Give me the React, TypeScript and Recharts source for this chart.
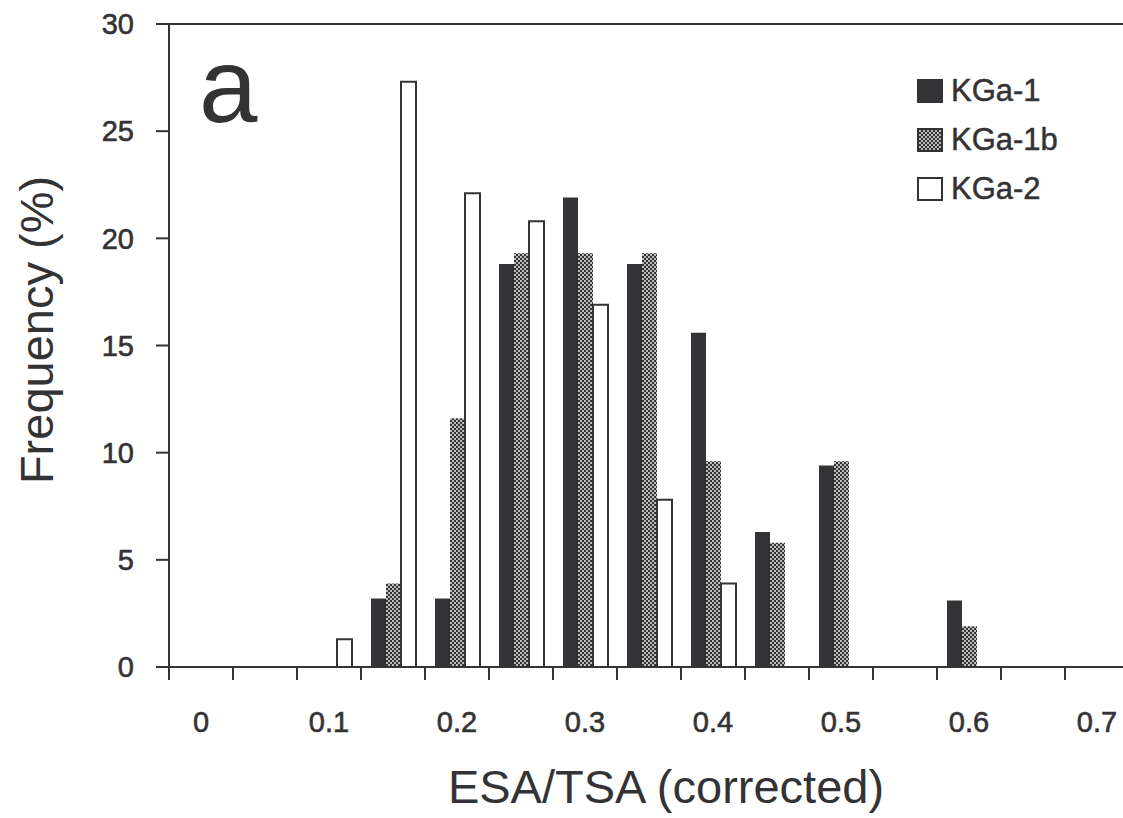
import { BarChart, Bar, XAxis, YAxis, ReferenceLine, Label } from 'recharts';

const bins = ['0', '0.05', '0.1', '0.15', '0.2', '0.25', '0.3', '0.35', '0.4', '0.45', '0.5', '0.55', '0.6', '0.65', '0.7'];
const kga1 = [null, null, null, 3.2, 3.2, 18.8, 21.9, 18.8, 15.6, 6.3, 9.4, null, 3.1, null, null];
const kga1b = [null, null, null, 3.9, 11.6, 19.3, 19.3, 19.3, 9.6, 5.8, 9.6, null, 1.9, null, null];
const kga2 = [null, null, 1.3, 27.3, 22.1, 20.8, 16.9, 7.8, 3.9, null, null, null, null, null, null];
const yTicks = [0, 5, 10, 15, 20, 25, 30];
const seriesNames = ['KGa-1', 'KGa-1b', 'KGa-2'];

const data = bins.map((bin, i) => ({ bin, kga1: kga1[i], kga1b: kga1b[i], kga2: kga2[i] }));

const INK = '#333335';
const FONT = '"Liberation Sans", Arial, Helvetica, sans-serif';
const CHART_W = 1200;
const CHART_H = 818;
const LEFT = 169;
const RIGHT = 71;
const CAT_W = (CHART_W - LEFT - RIGHT) / bins.length;

const fills = [INK, 'url(#stipple)', '#fff'];

function XTick(props: any) {
    const { x, y, index, payload } = props;
    const showLabel = index % 2 === 0;
    const last = index === bins.length - 1;
    return (
        <g>
            <line x1={x - CAT_W / 2} x2={x - CAT_W / 2} y1={y} y2={y + 13} stroke={INK} strokeWidth={2} />
            {last && <line x1={x + CAT_W / 2} x2={x + CAT_W / 2} y1={y} y2={y + 13} stroke={INK} strokeWidth={2} />}
            {showLabel && (
                <text x={x} y={y + 65} textAnchor="middle" fontSize={29} fontFamily={FONT} fill={INK} stroke={INK} strokeWidth={0.6}>
                    {payload.value}
                </text>
            )}
        </g>
    );
}

function Swatch({ i }: { i: number }) {
    return (
        <svg width={26} height={24} style={{ marginRight: 8, flex: 'none' }}>
            <rect x={1} y={1} width={24} height={22} fill={fills[i]} stroke={INK} strokeWidth={2} />
        </svg>
    );
}

export default function App() {
    return (
        <div style={{ position: 'fixed', left: 0, top: 0, width: 1123, height: 818, overflow: 'hidden', background: '#fff' }}>
            <svg width={0} height={0} style={{ position: 'absolute' }}>
                <defs>
                    <pattern id="stipple" width={4} height={4} patternUnits="userSpaceOnUse">
                        <rect width={4} height={4} fill={INK} />
                        <circle cx={1} cy={1} r={0.9} fill="#fff" />
                        <circle cx={3} cy={3} r={0.9} fill="#fff" />
                    </pattern>
                </defs>
            </svg>
            <BarChart
                width={CHART_W}
                height={CHART_H}
                data={data}
                margin={{ top: 24, right: RIGHT, bottom: 0, left: 0 }}
                barGap={0}
                barSize={15}
            >
                <XAxis
                    dataKey="bin"
                    height={151}
                    interval={0}
                    tickSize={0}
                    tickMargin={0}
                    tickLine={false}
                    tick={XTick}
                    axisLine={{ stroke: INK, strokeWidth: 2 }}
                >
                    <Label
                        content={() => (
                            <text x={666} y={803} textAnchor="middle" fontSize={47} fontFamily={FONT} fill={INK}>
                                ESA/TSA (corrected)
                            </text>
                        )}
                    />
                </XAxis>
                <YAxis
                    width={LEFT}
                    domain={[0, 30]}
                    ticks={yTicks}
                    interval={0}
                    tickSize={13}
                    tickMargin={22}
                    tick={{ fontSize: 29, fill: INK, fontFamily: FONT, stroke: INK, strokeWidth: 0.6 }}
                    tickLine={{ stroke: INK, strokeWidth: 2 }}
                    axisLine={{ stroke: INK, strokeWidth: 2 }}
                >
                    <Label
                        content={() => (
                            <text
                                x={53}
                                y={330}
                                transform="rotate(-90, 53, 330)"
                                textAnchor="middle"
                                fontSize={47}
                                fontFamily={FONT}
                                fill={INK}
                            >
                                Frequency (%)
                            </text>
                        )}
                    />
                </YAxis>
                <ReferenceLine y={30} stroke={INK} strokeWidth={2} />
                <Bar dataKey="kga1" name="KGa-1" fill={fills[0]} isAnimationActive={false} />
                <Bar dataKey="kga1b" name="KGa-1b" fill={fills[1]} isAnimationActive={false} />
                <Bar dataKey="kga2" name="KGa-2" fill={fills[2]} stroke={INK} strokeWidth={2} isAnimationActive={false} />
            </BarChart>
            <div style={{ position: 'absolute', left: 917, top: 66, fontFamily: FONT, fontSize: 31, color: INK, WebkitTextStroke: '0.5px ' + INK }}>
                {seriesNames.map((name, i) => (
                    <div key={name} style={{ display: 'flex', alignItems: 'center', height: 49 }}>
                        <Swatch i={i} />
                        <span>{name}</span>
                    </div>
                ))}
            </div>
            <svg width={400} height={200} style={{ position: 'absolute', left: 0, top: 0 }}>
                <text x={199} y={122} fontSize={105} fontFamily={FONT} fill={INK}>
                    a
                </text>
            </svg>
        </div>
    );
}
